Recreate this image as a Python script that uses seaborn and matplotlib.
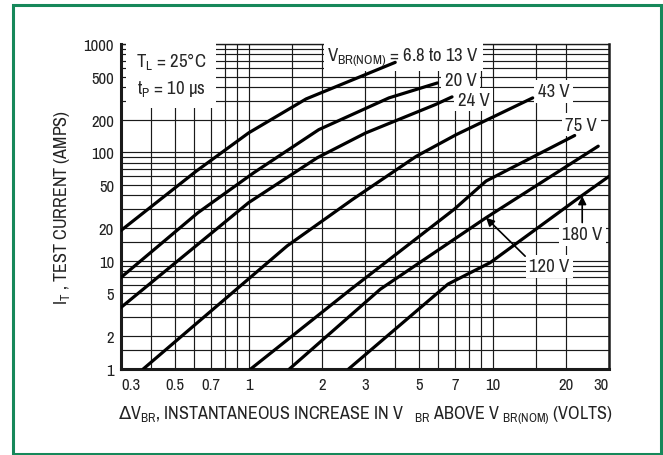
import numpy as np
import pandas as pd
import matplotlib
matplotlib.use('Agg')
import matplotlib.pyplot as plt
from matplotlib import font_manager
from matplotlib.patches import Rectangle
import seaborn as sns

# curves (delta V in volts, test current in amps)
vbr_names = ['6.8 to 13 V', '20 V', '24 V', '43 V', '75 V', '120 V', '180 V']
dv_68 = [0.3, 0.61, 1.0, 1.72, 3.99]
it_68 = [19, 67, 151, 311, 677]
dv_20 = [0.3, 0.62, 1.05, 1.94, 3.76, 5.94]
it_20 = [7.0, 27.7, 64.8, 162, 318, 437]
dv_24 = [0.3, 1.0, 1.91, 3.02, 5.83, 6.82]
it_24 = [3.7, 34.3, 89, 151, 276, 325]
dv_43 = [0.37, 1.44, 2.67, 4.87, 7.11, 14.6]
it_43 = [1.0, 13.7, 36.8, 92, 146, 318]
dv_75 = [1.02, 2.63, 6.96, 9.4, 21.7]
it_75 = [1.0, 5.46, 29.8, 54.3, 143]
dv_120 = [1.47, 3.47, 9.4, 27.1]
it_120 = [1.0, 5.46, 24.9, 114]
dv_180 = [2.57, 6.56, 9.78, 23.1, 30]
it_180 = [1.0, 6.07, 9.6, 39.5, 60]

x_ticks = [0.3, 0.5, 0.7, 1, 2, 3, 5, 7, 10, 20, 30]
x_ticklabels = ['0.3', '0.5', '0.7', '1', '2', '3', '5', '7', '10', '20', '30']
x_minor = [0.4, 0.6, 0.8, 0.9, 1.5, 4, 6, 8, 9, 15]
y_ticks = [1, 2, 5, 10, 20, 50, 100, 200, 500, 1000]
y_ticklabels = ['1', '2', '5', '10', '20', '50', '100', '200', '500', '1000']
y_minor = [1.5, 3, 4, 6, 7, 8, 9, 15, 30, 40, 60, 70, 80, 90, 300, 400, 600, 700, 800, 900]

all_dv = [dv_68, dv_20, dv_24, dv_43, dv_75, dv_120, dv_180]
all_it = [it_68, it_20, it_24, it_43, it_75, it_120, it_180]
frames = []
for name, dv, it in zip(vbr_names, all_dv, all_it):
    frames.append(pd.DataFrame({'dv': dv, 'it': it, 'vbr': name}))
df = pd.concat(frames, ignore_index=True)

sns.set_style('white')

# the datasheet uses a condensed sans, pick one if the system has it
narrow = None
for f in font_manager.fontManager.ttflist:
    if 'Narrow' in f.name:
        narrow = (f.name, 'normal')
        break
if narrow is None:
    for f in font_manager.fontManager.ttflist:
        if f.name == 'DejaVu Sans' and f.stretch == 'condensed':
            narrow = ('DejaVu Sans', 'condensed')
            break
if narrow is None:
    narrow = ('Liberation Sans', 'normal')
    scale = 0.88
else:
    scale = 1.0
plt.rcParams['font.family'] = [narrow[0], 'DejaVu Sans']
plt.rcParams['font.stretch'] = narrow[1]
plt.rcParams['mathtext.default'] = 'regular'

fig = plt.figure(figsize=(6.63, 4.56), dpi=100)
ax = fig.add_axes([121 / 663, 1 - 370 / 456, 488 / 663, 325 / 456])

sns.lineplot(data=df, x='dv', y='it', hue='vbr', palette=['black'] * 7,
             estimator=None, sort=False, legend=False, linewidth=2.3, ax=ax, zorder=4)

ax.set_xscale('log')
ax.set_yscale('log')
ax.set_xlim(0.3, 30)
ax.set_ylim(1, 1000)
ax.set_xticks(x_ticks)
ax.set_xticklabels(x_ticklabels)
ax.set_xticks(x_minor, minor=True)
ax.set_xticklabels([], minor=True)
ax.set_yticks(y_ticks)
ax.set_yticklabels(y_ticklabels)
ax.set_yticks(y_minor, minor=True)
ax.set_yticklabels([], minor=True)
ax.tick_params(which='both', length=0, labelsize=12 * scale, colors='#222222')
ax.tick_params(axis='x', pad=6)
ax.tick_params(axis='y', pad=5)
xl = ax.get_xticklabels()
xl[0].set_ha('left')
xl[-1].set_ha('right')
ax.grid(which='both', color='#1a1a1a', linewidth=0.85)
ax.set_axisbelow(True)

for side, lw in [('left', 2.2), ('bottom', 2.2), ('right', 1.8), ('top', 1.0)]:
    ax.spines[side].set_visible(True)
    ax.spines[side].set_color('#1a1a1a')
    ax.spines[side].set_linewidth(lw)

ax.set_ylabel('$I_T$ , TEST CURRENT (AMPS)', fontsize=13 * scale, labelpad=8, color='#222222')
ax.set_xlabel('$\\mathsf{\\Delta}$V$_{BR}$, INSTANTANEOUS INCREASE IN V   $_{BR}$ ABOVE V $_{BR(NOM)}$ (VOLTS)',
              fontsize=13 * scale, labelpad=8, color='#222222')

fs = 13.5 * scale
box = dict(facecolor='white', edgecolor='none', pad=2.5)
ax.text(0.48, 530, '$T_L$ = 25°C\n$t_P$ = 10 µs', fontsize=fs, ha='center', va='center',
        linespacing=1.5, bbox=dict(facecolor='white', edgecolor='none', pad=7), zorder=3)
ax.text(4.3, 770, '$V_{BR(NOM)}$ = 6.8 to 13 V', fontsize=fs, ha='center', va='center', bbox=box, zorder=3)
ax.text(7.4, 465, '20 V', fontsize=fs, ha='center', va='center', bbox=box, zorder=3)
ax.text(8.35, 305, '24 V', fontsize=fs, ha='center', va='center', bbox=box, zorder=3)
ax.text(17.8, 365, '43 V', fontsize=fs, ha='center', va='center', bbox=box, zorder=3)
ax.text(23.1, 180, '75 V', fontsize=fs, ha='center', va='center', bbox=box, zorder=3)
ax.text(23.3, 17.5, '180 V', fontsize=fs, ha='center', va='center', bbox=box, zorder=3)
ax.text(17.1, 8.9, '120 V', fontsize=fs, ha='center', va='center', bbox=box, zorder=3)

arrow = dict(arrowstyle='-|>', color='black', lw=1.2, mutation_scale=12, shrinkA=0, shrinkB=0)
ax.annotate('', xy=(9.4, 24.9), xytext=(13.6, 11.0), arrowprops=arrow, zorder=5)
ax.annotate('', xy=(23.3, 39.5), xytext=(23.3, 22.5), arrowprops=arrow, zorder=5)

fig.patches.append(Rectangle((13 / 663, 1 - 455 / 456), 648 / 663, 449 / 456,
                             transform=fig.transFigure, fill=False,
                             edgecolor='#16885a', linewidth=2.2))

fig.savefig('out.png', dpi=100)
